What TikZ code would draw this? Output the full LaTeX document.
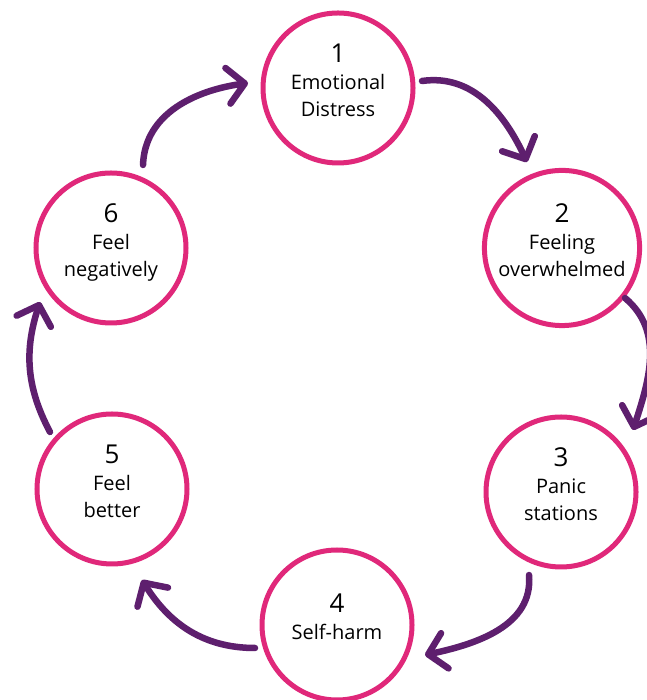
\documentclass[tikz,border=0pt]{standalone}
\usepackage{fontspec}
\setmainfont{Open Sans}
\usetikzlibrary{arrows.meta}
\definecolor{ringpink}{HTML}{E0287A}
\definecolor{arrowpurple}{HTML}{5E1F6E}
\tikzset{
  ring/.style={circle, draw=ringpink, line width=5pt, minimum size=150pt, inner sep=0pt,
    align=center, font=\fontsize{20}{27}\selectfont, text=black, text depth=16pt},
  cyc/.style={draw=arrowpurple, line width=6.5pt, line cap=round,
    -{Straight Barb[length=17pt, width=36pt, line cap=round, line join=round]}},
}
\newcommand{\num}[1]{{\fontsize{26}{27}\selectfont #1}}
\begin{document}
\begin{tikzpicture}[x=1pt,y=1pt]
\useasboundingbox (0,0) rectangle (646,700);
\fill[white] (0,0) rectangle (646,700);
\node[ring] (c1) at (338,612) {\num{1}\\Emotional\\Distress};
\node[ring] (c2) at (562,452) {\num{2}\\Feeling\\overwhelmed};
\node[ring] (c3) at (561,208) {\num{3}\\Panic\\stations};
\node[ring] (c4) at (337,75) {\num{4}\\Self-harm};
\node[ring] (c5) at (112,211) {\num{5}\\Feel\\better};
\node[ring] (c6) at (111,452) {\num{6}\\Feel\\negatively};
\coordinate (a12s) at (422,619);
\coordinate (a12e) at (527,538);
\coordinate (a23s) at (625,402);
\coordinate (a23e) at (633,270);
\coordinate (a34s) at (529,125);
\coordinate (a34e) at (425,45);
\coordinate (a45s) at (255,52);
\coordinate (a45e) at (142,120);
\coordinate (a56s) at (50,268);
\coordinate (a56e) at (40,398);
\coordinate (a61s) at (143,535);
\coordinate (a61e) at (248,617);
\draw[cyc] (a12s) to[out=8, in=115] (a12e);
\draw[cyc] (a23s) to[out=-40, in=72] (a23e);
\draw[cyc] (a34s) to[out=-85, in=12] (a34e);
\draw[cyc] (a45s) to[out=180, in=-58] (a45e);
\draw[cyc] (a56s) to[out=118, in=-108] (a56e);
\draw[cyc] (a61s) to[out=88, in=188] (a61e);
\end{tikzpicture}
\end{document}
